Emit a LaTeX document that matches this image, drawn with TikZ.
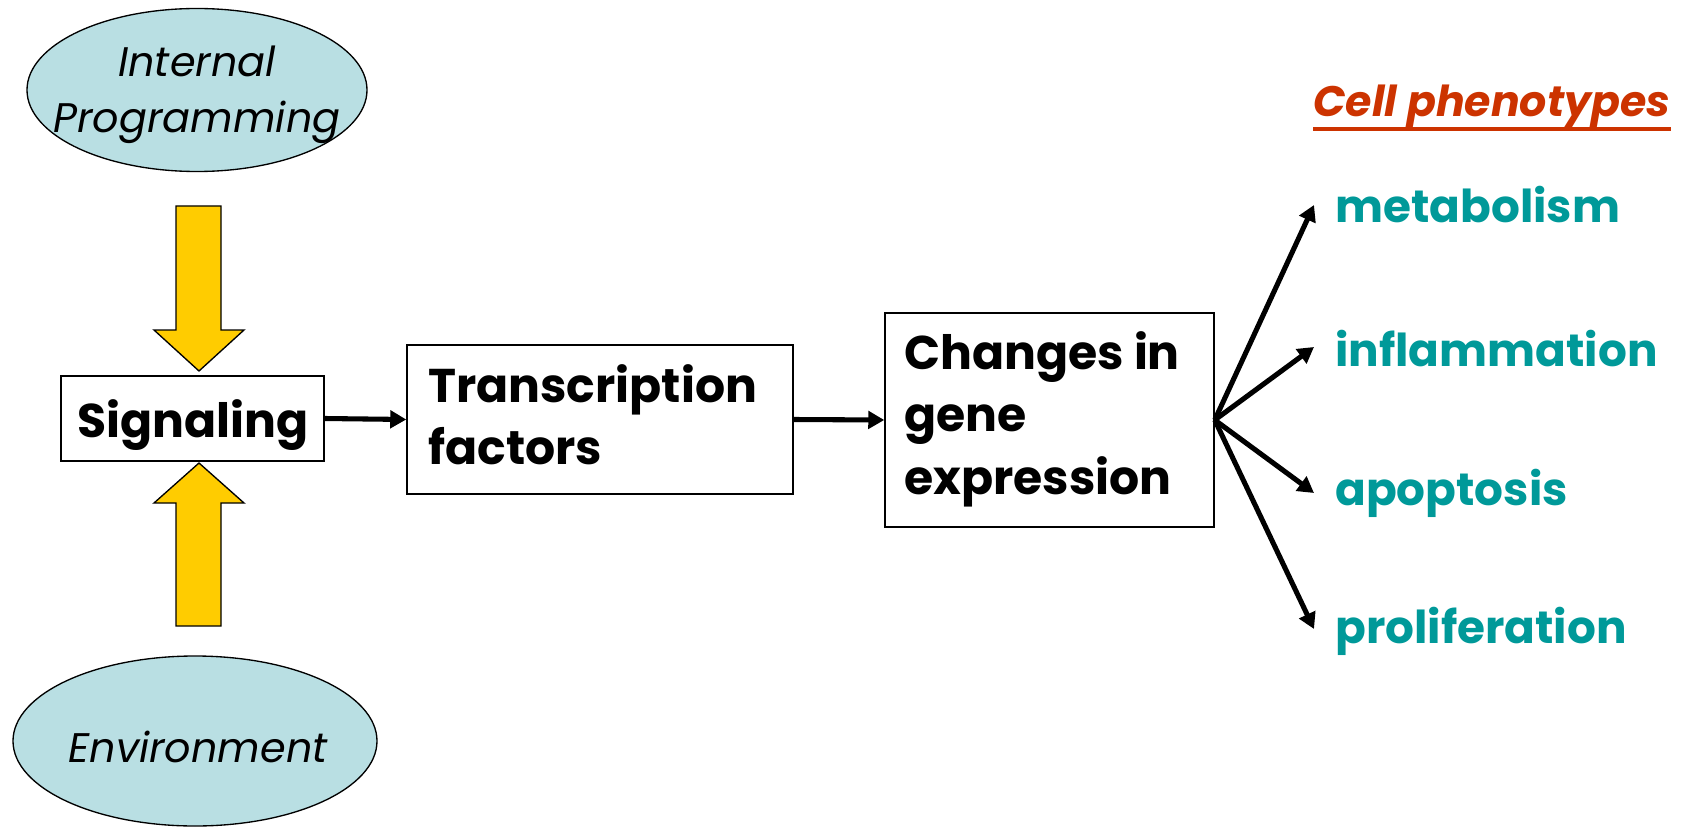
\documentclass[tikz,border=0pt]{standalone}
\usepackage{fontspec}
\setmainfont{Poppins}
\usetikzlibrary{arrows.meta,shapes.geometric}
\definecolor{ellfill}{RGB}{185,223,227}
\definecolor{arrowyellow}{RGB}{255,204,0}
\definecolor{tealtext}{RGB}{0,153,153}
\definecolor{redtext}{RGB}{204,51,0}
\tikzset{
  ell/.style={draw=black, line width=1pt, fill=ellfill, ellipse, inner sep=0pt},
  box/.style={draw=black, line width=1.1pt, fill=white, inner sep=0pt},
  btxt/.style={font=\fontsize{35.5}{47}\selectfont\bfseries},
  itxt/.style={font=\fontsize{31}{42}\selectfont\itshape, align=center},
  pheno/.style={font=\fontsize{34}{40}\selectfont\bfseries, text=tealtext, anchor=west, inner sep=0pt},
  conn/.style={line width=3.8pt, -{Triangle[length=12pt,width=13pt]}},
  blockarrow/.style={draw=black, line width=1pt, fill=arrowyellow, line join=miter},
}
\begin{document}
\begin{tikzpicture}[x=0.75pt,y=-0.75pt]
\useasboundingbox (0,0) rectangle (1692,831);
% ellipses
\node[ell, minimum width=340*0.75pt, minimum height=163*0.75pt] (int) at (197,90) {};
\node[itxt] (intt) at (197,95) {Internal\\Programming};
\node[ell, minimum width=364*0.75pt, minimum height=170*0.75pt] (env) at (195,741) {};
\node[itxt] (envt) at (198,747) {Environment};
% yellow block arrows
\draw[blockarrow] (176,206) -- (221,206) -- (221,330) -- (244,330) -- (199,371) -- (154,330) -- (176,330) -- cycle;
\draw[blockarrow] (176,626) -- (221,626) -- (221,503) -- (244,503) -- (199,463) -- (154,503) -- (176,503) -- cycle;
% boxes
\node[box, minimum width=263*0.75pt, minimum height=85*0.75pt] (sig) at (192.5,418.5) {};
\node[btxt] (sigt) at (193,425) {Signaling};
\node[box, minimum width=386*0.75pt, minimum height=149*0.75pt] (tf) at (600,419.5) {};
\node[btxt, anchor=north west, align=left, inner sep=0pt] (tft) at (428,364) {Transcription\\factors};
\node[box, minimum width=329*0.75pt, minimum height=214*0.75pt] (chg) at (1049.5,420) {};
\node[btxt, anchor=north west, align=left, inner sep=0pt] (chgt) at (904,331) {Changes in\\gene\\expression};
% connectors
\draw[conn] (sig.east) -- (tf.west);
\draw[conn] (tf.east) -- (chg.west);
% phenotypes
\node[font=\fontsize{32}{40}\selectfont\bfseries\itshape, text=redtext, anchor=west, inner sep=0pt] (cell) at (1313,106) {Cell phenotypes};
\draw[redtext, line width=2.5pt] (cell.south west |- 0,129) -- (cell.south east |- 0,129);
\coordinate (mett) at (1314,205);
\coordinate (inft) at (1314,347);
\coordinate (apot) at (1314,493);
\coordinate (prot) at (1314,629);
\node[pheno] (met) at (1335,205) {metabolism};
\node[pheno] (inf) at (1335,349) {inflammation};
\node[pheno] (apo) at (1335,493) {apoptosis};
\node[pheno] (pro) at (1335,631) {proliferation};
\draw[conn] (chg.east) -- (mett);
\draw[conn] (chg.east) -- (inft);
\draw[conn] (chg.east) -- (apot);
\draw[conn] (chg.east) -- (prot);
\end{tikzpicture}
\end{document}
